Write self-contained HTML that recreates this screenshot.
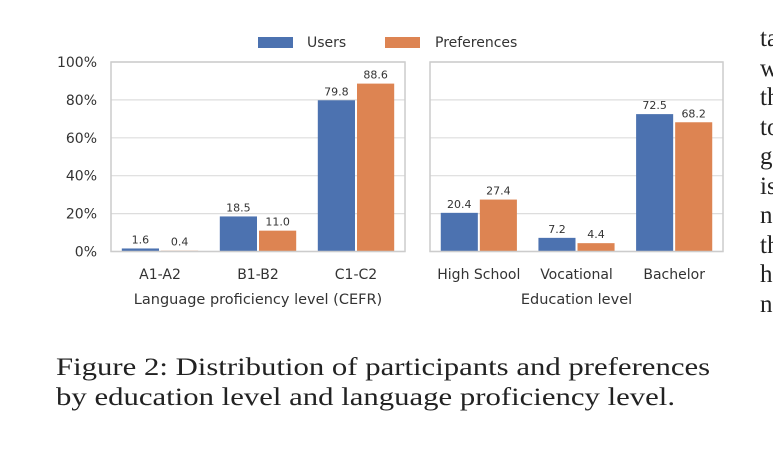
<!DOCTYPE html>
<html><head><meta charset="utf-8"><style>
body{margin:0;background:#fff;width:773px;height:451px;overflow:hidden;position:relative}
svg{position:absolute;left:0;top:0}
.t{font-family:"DejaVu Sans","Liberation Sans",sans-serif;fill:#333}
.cap{position:absolute;left:56px;top:353px;font-family:"Liberation Serif",serif;font-size:25px;line-height:30px;color:#222;white-space:nowrap;transform-origin:0 0;transform:scaleX(1.23)}
.side{position:absolute;left:760px;top:24px;font-family:"Liberation Serif",serif;font-size:25px;line-height:29.5px;color:#222}
</style></head><body>
<svg id="chart" width="773" height="451"></svg>
<div class="cap">Figure 2: Distribution of participants and preferences<br>by education level and language proficiency level.</div>
<div class="side">ta<br>w<br>th<br>to<br>g<br>is<br>n<br>th<br>h<br>n</div>
<script>
const langCats=["A1-A2","B1-B2","C1-C2"];
const langUsers=[1.6,18.5,79.8];
const langPrefs=[0.4,11.0,88.6];
const eduCats=["High School","Vocational","Bachelor"];
const eduUsers=[20.4,7.2,72.5];
const eduPrefs=[27.4,4.4,68.2];
const yTicks=[0,20,40,60,80,100];
const NS="http://www.w3.org/2000/svg";
const svg=document.getElementById('chart');
function mk(tag,attrs,parent){const e=document.createElementNS(NS,tag);for(const k in attrs)e.setAttribute(k,attrs[k]);(parent||svg).appendChild(e);return e;}
const y0=251.5,y1=62;
function yS(v){return y0-(v/100)*(y0-y1);}
function panel(x0,x1,cats,us,ps,title,name,showY){
  const g=mk('g',{});
  
  
  yTicks.forEach(t=>{
    const l=mk('line',{x1:x0,x2:x1,y1:yS(t),y2:yS(t),stroke:'#ddd','stroke-width':1.2},g);
    
    
    if(showY){const tx=mk('text',{x:x0-14,y:yS(t)+5,'text-anchor':'end','font-size':14,class:'t'},g);tx.textContent=t+'%';
      
      }
  });
  const gw=(x1-x0)/cats.length,bw=gw*0.4;
  cats.forEach((c,i)=>{
    const cx=x0+gw*(i+0.5);
    [[us[i],'#4c72b0',-1],[ps[i],'#dd8452',0]].forEach(([v,col,o])=>{
      const bx=cx+o*bw;
      const r=mk('rect',{x:bx+1,y:yS(v),width:bw-2,height:y0-yS(v),fill:col},g);
      
      
      const tx=mk('text',{x:bx+bw/2,y:yS(v)-5,'text-anchor':'middle','font-size':11,class:'t'},g);
      tx.textContent=v.toFixed(1);
      
      
    });
    const tl=mk('text',{x:cx,y:279,'text-anchor':'middle','font-size':14,class:'t'},g);tl.textContent=c;
    
    
  });
  const fr=mk('rect',{x:x0,y:y1,width:x1-x0,height:y0-y1,fill:'none',stroke:'#ccc','stroke-width':1.5},g);
  
  
  const at=mk('text',{x:(x0+x1)/2,y:304,'text-anchor':'middle','font-size':14.5,class:'t'},g);at.textContent=title;
  
  
}
panel(111,405,langCats,langUsers,langPrefs,'Language proficiency level (CEFR)','language-panel',true);
panel(430,723,eduCats,eduUsers,eduPrefs,'Education level','education-panel',false);
const lg=mk('g',{});


mk('rect',{x:258,y:37,width:35,height:11,fill:'#4c72b0'},lg);
const l1=mk('text',{x:307,y:47,'font-size':14,class:'t'},lg);l1.textContent='Users';


mk('rect',{x:385,y:37,width:35,height:11,fill:'#dd8452'},lg);
const l2=mk('text',{x:435,y:47,'font-size':14,class:'t'},lg);l2.textContent='Preferences';


</script>
</body></html>
